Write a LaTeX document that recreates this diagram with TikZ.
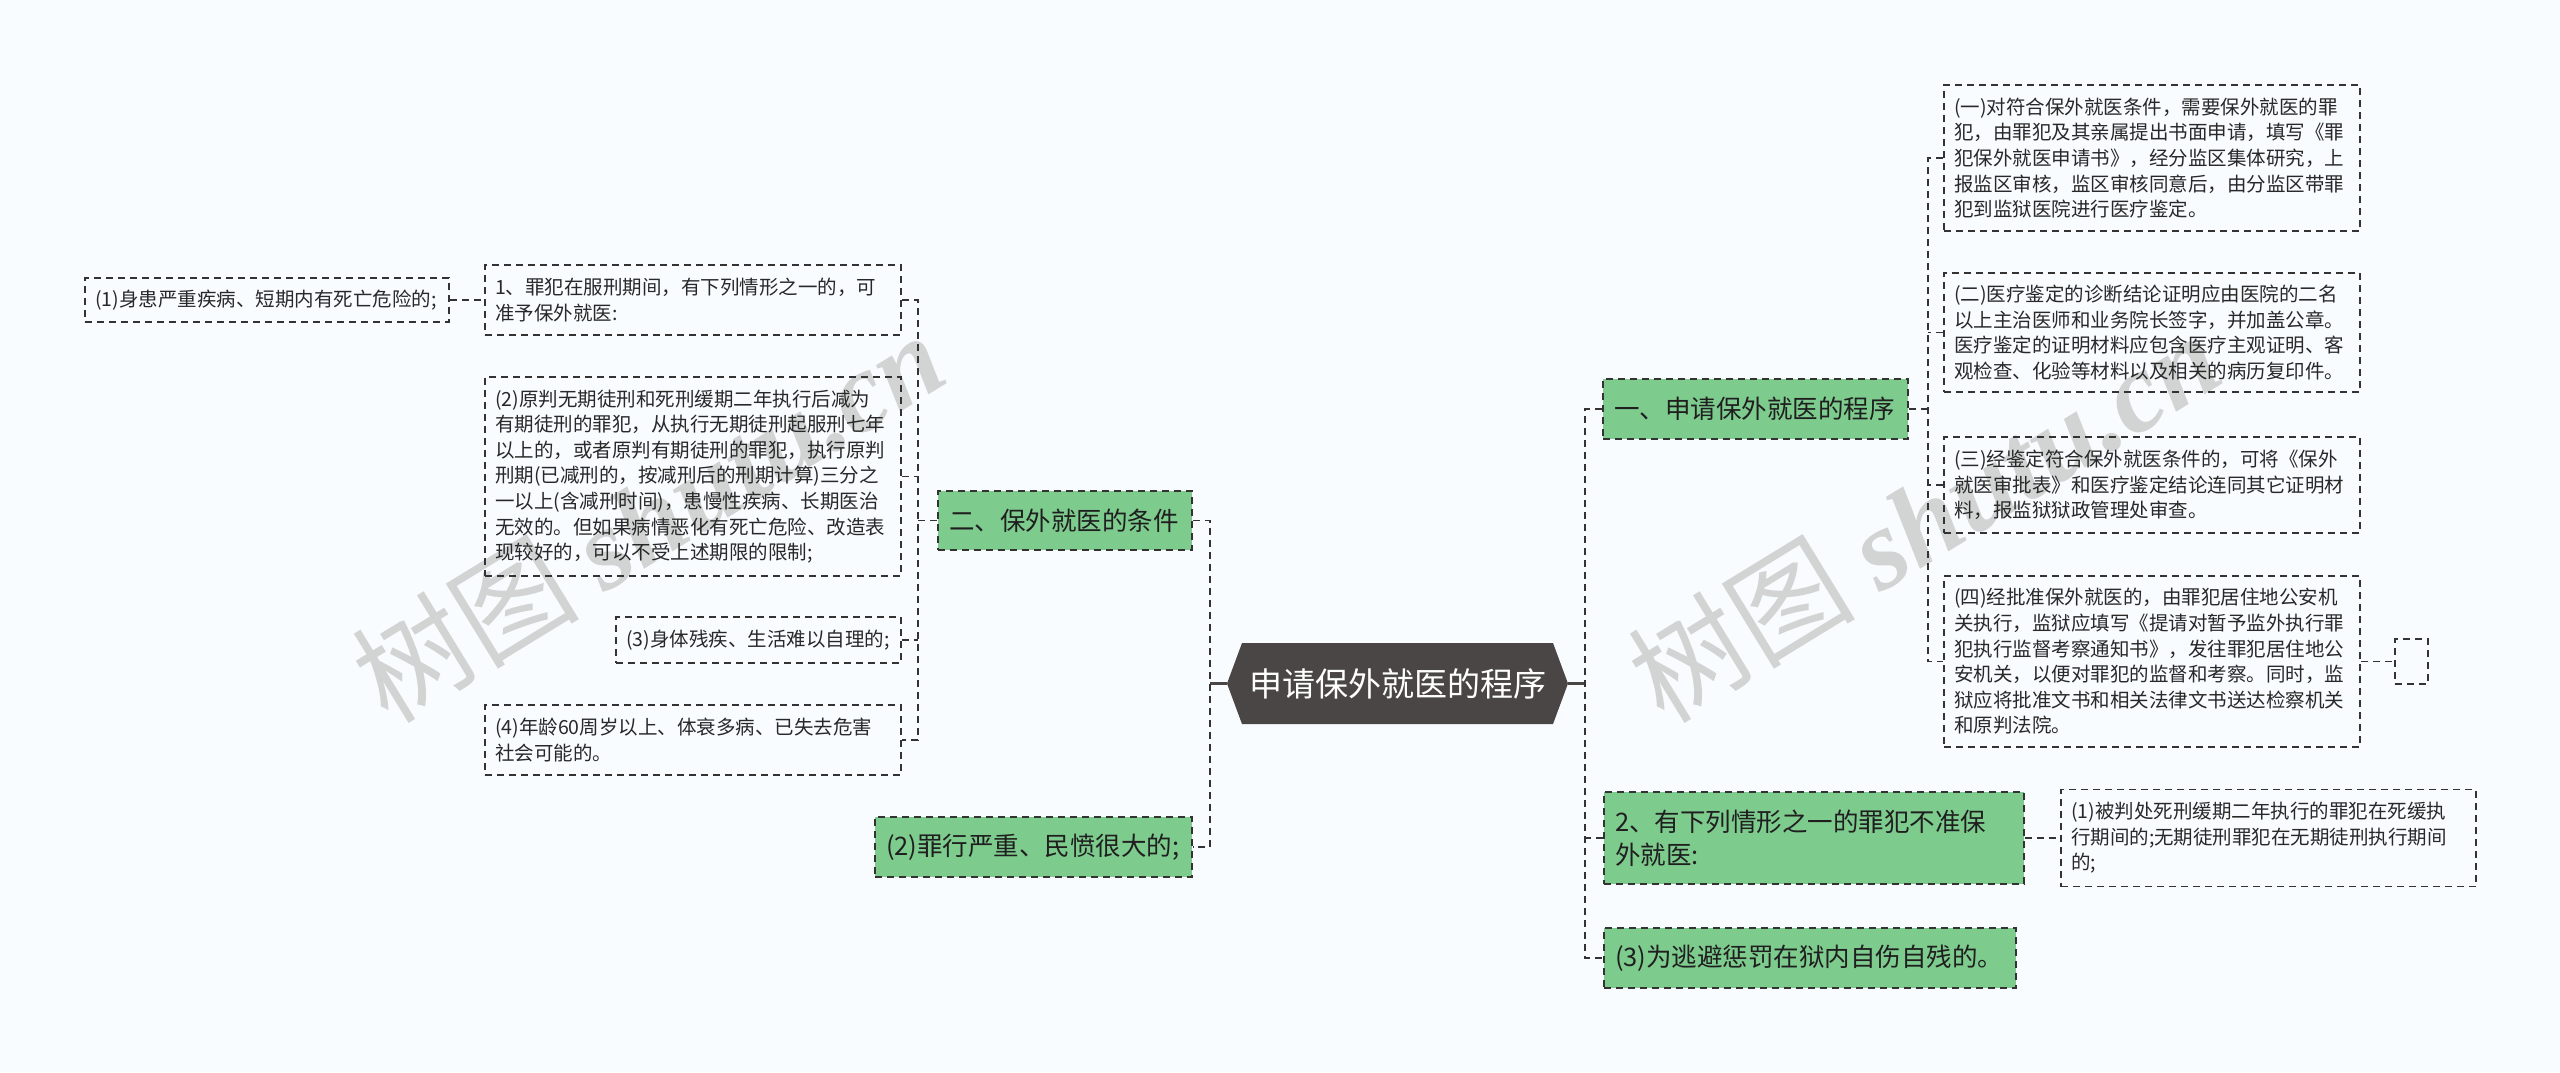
\documentclass[tikz,border=0pt]{standalone}
\usepackage{fontspec}
\setmainfont{Noto Sans CJK SC}
\newfontfamily\wmserif{Liberation Serif}
\usetikzlibrary{calc}
\definecolor{bgc}{RGB}{248,252,254}
\definecolor{gfill}{RGB}{126,203,142}
\definecolor{rootc}{RGB}{75,70,70}
\definecolor{edgec}{RGB}{51,51,51}
\definecolor{txtc}{RGB}{40,40,40}
\definecolor{wmc}{RGB}{210,212,212}
\begin{document}
\begin{tikzpicture}[x=1pt,y=-1pt,
  conn/.style={draw=edgec, line width=1.8pt, dash pattern=on 7pt off 5pt},
  wbox/.style={draw=edgec, line width=1.8pt, dash pattern=on 7pt off 5pt, align=left,
    inner xsep=10pt, inner ysep=0pt, font=\fontsize{19.5}{25.6}\selectfont, text=txtc},
  gbox/.style={draw=edgec, fill=gfill, line width=1.8pt, dash pattern=on 7pt off 5pt, align=left,
    inner xsep=11pt, inner ysep=0pt, font=\fontsize{25.5}{33}\selectfont, text=black!88},
  rootline/.style={draw=rootc, line width=2.5pt},
  wmark/.style={rotate=31.5, text=wmc, font=\fontsize{114}{122}\selectfont},
]
\fill[bgc] (0,0) rectangle (2560,1072);
\useasboundingbox (0,0) rectangle (2560,1072);

% watermarks
\node[wmark] (wm1) at (648,516) {树图 {\wmserif\bfseries\itshape shutu.cn}};
\node[wmark] (wm2) at (1924,516) {树图 {\wmserif\bfseries\itshape shutu.cn}};

% root
\coordinate (rc) at (1397.5,683.5);
\fill[rootc] ($(rc)+(-155.5,-40.5)$) -- ($(rc)+(155.5,-40.5)$) -- ($(rc)+(170.5,0)$)
  -- ($(rc)+(155.5,40.5)$) -- ($(rc)+(-155.5,40.5)$) -- ($(rc)+(-170.5,0)$) -- cycle;
\node[minimum width=341pt, minimum height=81pt, inner sep=0pt, text=white,
  font=\fontsize{33}{40}\selectfont] (root) at (rc) {申请保外就医的程序};

% left side
\node[wbox, minimum width=364pt, minimum height=44pt, text width=344pt] (L1) at (267,300)
  {(1)身患严重疾病、短期内有死亡危险的;};
\node[wbox, minimum width=416pt, minimum height=70pt, text width=396pt] (L2) at (693,300)
  {1、罪犯在服刑期间，有下列情形之一的，可\\准予保外就医:};
\node[wbox, minimum width=416pt, minimum height=199pt, text width=396pt] (L3) at (693,476.5)
  {(2)原判无期徒刑和死刑缓期二年执行后减为\\有期徒刑的罪犯，从执行无期徒刑起服刑七年\\以上的，或者原判有期徒刑的罪犯，执行原判\\刑期(已减刑的，按减刑后的刑期计算)三分之\\一以上(含减刑时间)，患慢性疾病、长期医治\\无效的。但如果病情恶化有死亡危险、改造表\\现较好的，可以不受上述期限的限制;};
\node[wbox, minimum width=285pt, minimum height=46pt, text width=265pt] (L4) at (758.5,640)
  {(3)身体残疾、生活难以自理的;};
\node[wbox, minimum width=416pt, minimum height=70pt, text width=396pt] (L5) at (693,740)
  {(4)年龄60周岁以上、体衰多病、已失去危害\\社会可能的。};
\node[gbox, minimum width=254pt, minimum height=59pt, text width=232pt] (G1) at (1065,520.5)
  {二、保外就医的条件};
\node[gbox, minimum width=317pt, minimum height=60pt, text width=295pt] (G2) at (1033.5,847)
  {(2)罪行严重、民愤很大的;};

% right side
\node[gbox, minimum width=305pt, minimum height=60pt, text width=283pt] (RG1) at (1755.5,409)
  {一、申请保外就医的程序};
\node[wbox, minimum width=416pt, minimum height=146pt, text width=396pt] (R1) at (2152,158)
  {(一)对符合保外就医条件，需要保外就医的罪\\犯，由罪犯及其亲属提出书面申请，填写《罪\\犯保外就医申请书》，经分监区集体研究，上\\报监区审核，监区审核同意后，由分监区带罪\\犯到监狱医院进行医疗鉴定。};
\node[wbox, minimum width=416pt, minimum height=119pt, text width=396pt] (R2) at (2152,332.5)
  {(二)医疗鉴定的诊断结论证明应由医院的二名\\以上主治医师和业务院长签字，并加盖公章。\\医疗鉴定的证明材料应包含医疗主观证明、客\\观检查、化验等材料以及相关的病历复印件。};
\node[wbox, minimum width=416pt, minimum height=96pt, text width=396pt] (R3) at (2152,485)
  {(三)经鉴定符合保外就医条件的，可将《保外\\就医审批表》和医疗鉴定结论连同其它证明材\\料，报监狱狱政管理处审查。};
\node[wbox, minimum width=416pt, minimum height=171pt, text width=396pt] (R4) at (2152,661.5)
  {(四)经批准保外就医的，由罪犯居住地公安机\\关执行，监狱应填写《提请对暂予监外执行罪\\犯执行监督考察通知书》，发往罪犯居住地公\\安机关，以便对罪犯的监督和考察。同时，监\\狱应将批准文书和相关法律文书送达检察机关\\和原判法院。};
\node[wbox, minimum width=33pt, minimum height=45pt, inner xsep=0pt] (E) at (2411.5,661.5) {};
\node[gbox, minimum width=420pt, minimum height=92pt, text width=398pt] (RG2) at (1814,838)
  {2、有下列情形之一的罪犯不准保\\外就医:};
\node[wbox, minimum width=415pt, minimum height=97pt, text width=395pt] (RG2c) at (2268.5,838)
  {(1)被判处死刑缓期二年执行的罪犯在死缓执\\行期间的;无期徒刑罪犯在无期徒刑执行期间\\的;};
\node[gbox, minimum width=412pt, minimum height=60pt, text width=390pt] (RG3) at (1810,958)
  {(3)为逃避惩罚在狱内自伤自残的。};

% connectors left
\draw[conn] (L1.east) -- (L2.west);
\coordinate (gl) at ($(G1.west)+(-19,0)$);
\draw[conn] (L2.east) -| (gl) |- (L5.east);
\draw[conn] (gl) -- (G1.west);
\draw[conn] (L3.east) -- (L3.east -| gl);
\draw[conn] (L4.east) -- (L4.east -| gl);
\draw[rootline] (root.west) -- ++(-17,0) coordinate (rl);
\draw[conn] (G1.east) -| (rl) |- (G2.east);

% connectors right
\draw[rootline] (root.east) -- ++(17,0) coordinate (rr);
\draw[conn] (RG1.west) -| (rr) |- (RG3.west);
\draw[conn] (RG2.west) -- (RG2.west -| rr);
\coordinate (ra) at ($(RG1.east)+(19,0)$);
\draw[conn] (R1.west) -| (ra) |- (R4.west);
\draw[conn] (RG1.east) -- (ra);
\draw[conn] (R2.west) -- (R2.west -| ra);
\draw[conn] (R3.west) -- (R3.west -| ra);
\draw[conn] (R4.east) -- (E.west);
\draw[conn] (RG2.east) -- (RG2c.west);
\end{tikzpicture}
\end{document}
